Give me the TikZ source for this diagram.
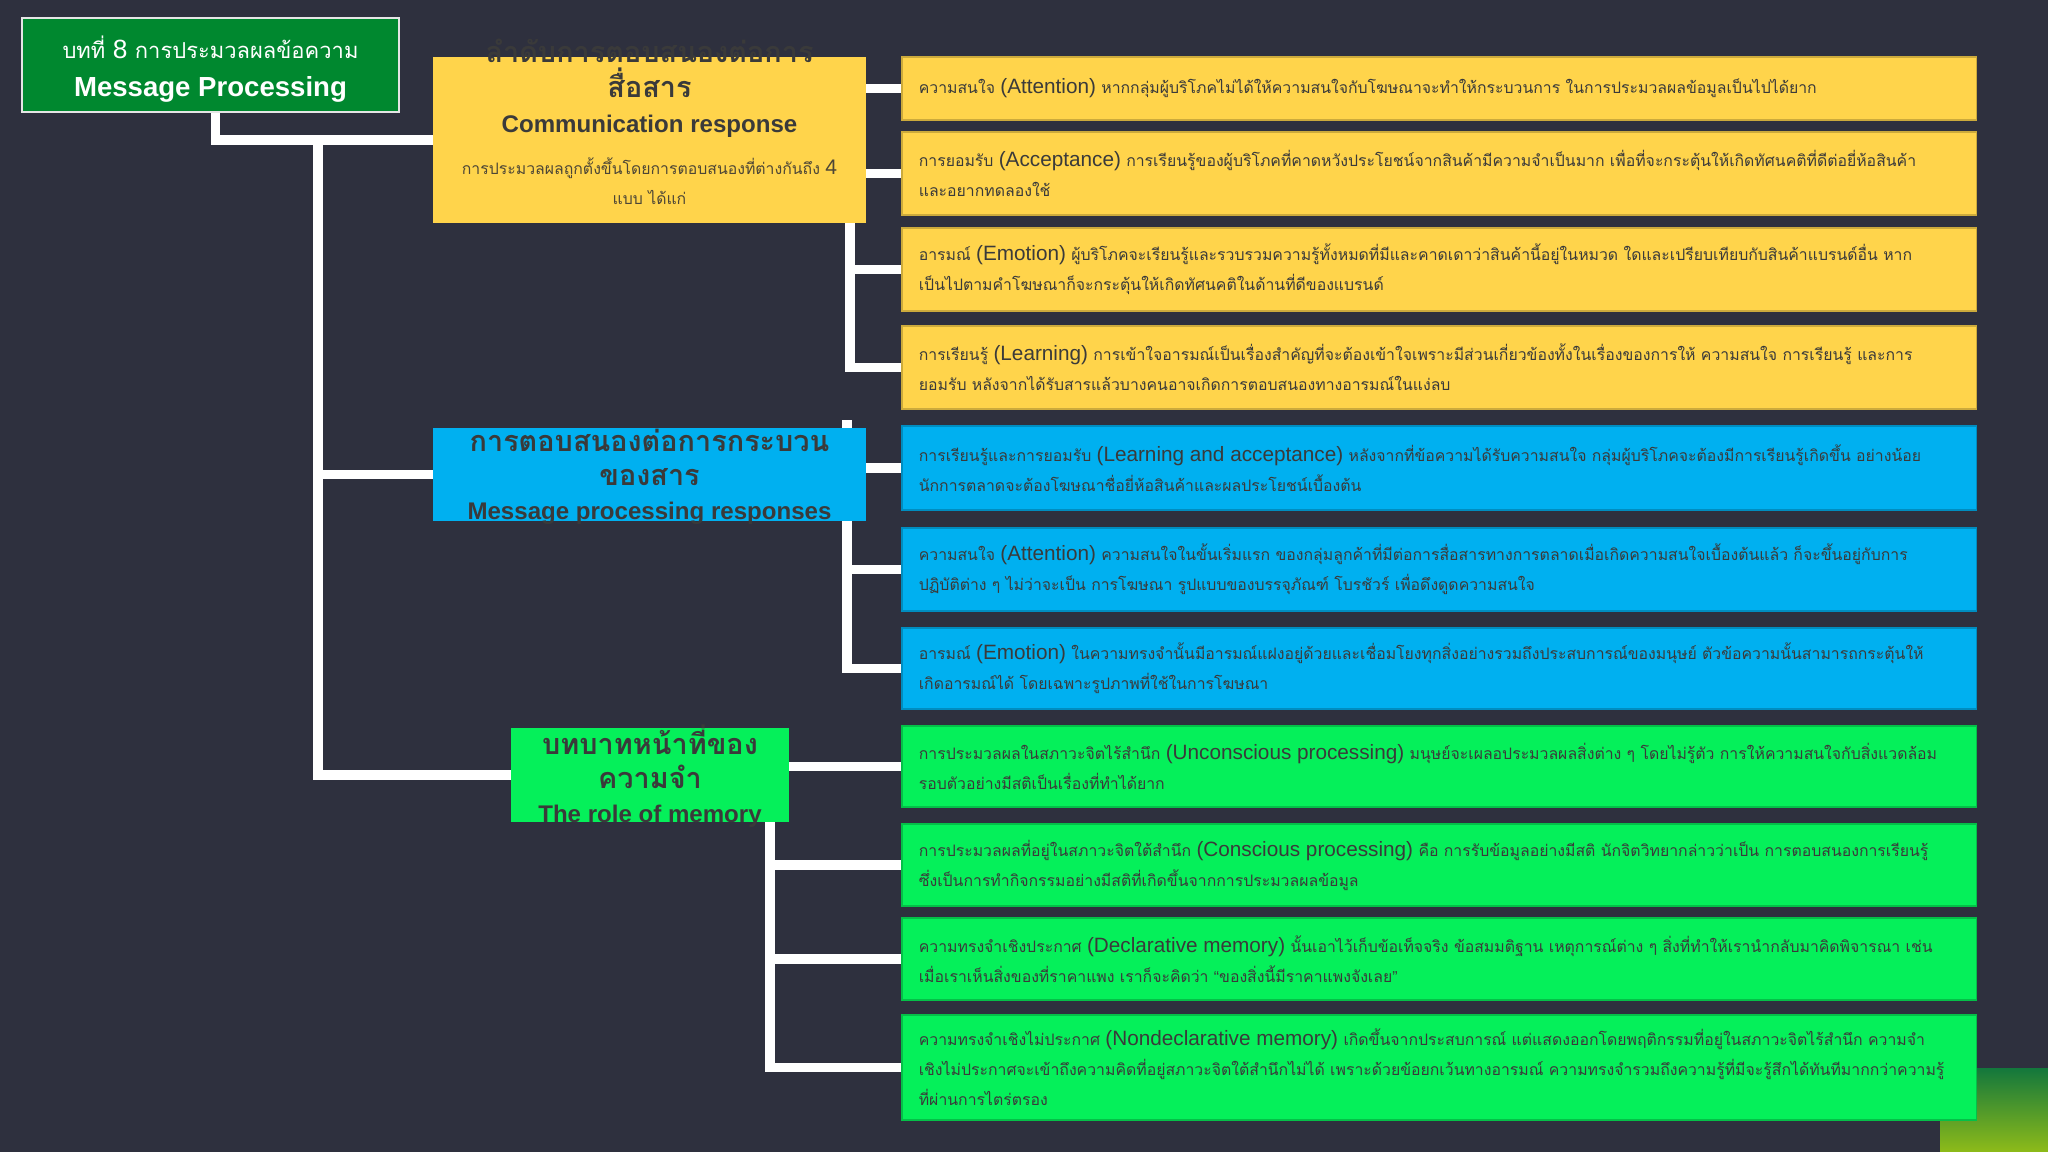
\documentclass[tikz,border=0pt]{standalone}
\usepackage{fontspec}
\setmainfont{Liberation Sans}
\newfontfamily\enfont{Liberation Sans}
\newfontfamily\thai[Script=Thai]{Loma}
\usetikzlibrary{positioning}

\definecolor{bgc}{HTML}{2E303E}
\definecolor{titlegreen}{HTML}{00882F}
\definecolor{yellowc}{HTML}{FFD44B}
\definecolor{bluec}{HTML}{00B0F0}
\definecolor{greenc}{HTML}{05F05A}
\definecolor{inkc}{HTML}{3A3A3A}
\definecolor{notec}{HTML}{4D4636}
\definecolor{cornertop}{HTML}{13773C}
\definecolor{cornerbot}{HTML}{8EBB19}

\pgfdeclarelayer{back}
\pgfdeclarelayer{wires}
\pgfsetlayers{back,wires,main}

\newcommand{\rowfont}{\thai\fontsize{9}{17}\selectfont}
\newcommand{\eterm}[1]{{\enfont\fontsize{11.8}{17}\selectfont(#1)}}
\newcommand{\hdrfont}{\bfseries\fontsize{13.7}{19.5}\selectfont}
\newcommand{\hdrthai}{\thai\bfseries\fontsize{16.4}{19.5}\selectfont}

\tikzset{
  wire/.style={draw=white, line width=5.5pt},
  titlebox/.style={fill=titlegreen, draw=white!80!gray, line width=1pt, text=white,
    align=center, minimum width=377*\pu*1cm, minimum height=94*\pu*1cm, inner sep=0pt,
    font=\fontsize{15}{22}\selectfont},
  hdrbox/.style={minimum width=433*\pu*1cm, inner sep=0pt},
  hdrtext/.style={text=inkc, align=center, inner sep=0pt, font=\fontsize{13.7}{19.5}\selectfont},
  rowbox/.style={minimum width=1074*\pu*1cm, inner sep=0pt, line width=0.6pt},
  rowtext/.style={text=inkc, anchor=west, align=left, inner sep=0pt, font=\rowfont},
}

\begin{document}
\begin{tikzpicture}[x=0.02cm, y=-0.02cm]
\def\pu{0.02}
% ---- พื้นหลัง ----
\begin{pgfonlayer}{back}
\fill[bgc] (0,0) rectangle (2048,1152);
\shade[top color=cornertop, bottom color=cornerbot] (1940,1068) rectangle (2048,1152);
\end{pgfonlayer}
\useasboundingbox (0,0) rectangle (2048,1152);

% ---- หัวเรื่อง ----
\node[titlebox] (title) at (210.5,65) {};
\node[text=white, align=center, inner sep=0pt, font=\fontsize{15}{22}\selectfont] (titletxt) at (210.5,69)
  {{\thai\fontsize{12.5}{20}\selectfont บทที่ {\enfont\fontsize{15}{20}\selectfont 8} การประมวลผลข้อความ}\\
   {\bfseries\fontsize{15.7}{20}\selectfont Message Processing}};

% ---- กล่องหัวข้อ 3 กลุ่ม ----
\node[hdrbox, fill=yellowc, minimum height=166*\pu*1cm] (comm) at (649.5,140) {};
\node[hdrtext, font=\fontsize{13.7}{20}\selectfont] (commhead) at (649.5,88)
  {{\hdrthai ลำดับการตอบสนองต่อการ}\\{\hdrthai สื่อสาร}\\{\hdrfont Communication response}};
\node[hdrtext, text=notec, font=\rowfont] (commnote) at (649.5,181)
  {การประมวลผลถูกตั้งขึ้นโดยการตอบสนองที่ต่างกันถึง {\enfont\fontsize{12}{17}\selectfont 4}\\แบบ ได้แก่};

\node[hdrbox, fill=bluec, minimum height=93*\pu*1cm] (msg) at (649.5,474.5) {};
\node[hdrtext] (msghead) at (649.5,477)
  {{\hdrthai การตอบสนองต่อการกระบวน}\\{\hdrthai ของสาร}\\{\hdrfont Message processing responses}};

\node[hdrbox, fill=greenc, minimum width=278*\pu*1cm, minimum height=94*\pu*1cm] (mem) at (650,775) {};
\node[hdrtext] (memhead) at (650,776)
  {{\hdrthai บทบาทหน้าที่ของ}\\{\hdrthai ความจำ}\\{\hdrfont The role of memory}};

% ---- แถวสีเหลือง ----
\node[rowbox, fill=yellowc, draw=yellowc!80!black, minimum height=63*\pu*1cm] (y1) at (1439,88.5) {};
\node[rowtext] (y1t) at ([xshift=17*\pu*1cm]y1.west)
  {ความสนใจ \eterm{Attention} หากกลุ่มผู้บริโภคไม่ได้ให้ความสนใจกับโฆษณาจะทำให้กระบวนการ ในการประมวลผลข้อมูลเป็นไปได้ยาก};
\node[rowbox, fill=yellowc, draw=yellowc!80!black, minimum height=83*\pu*1cm] (y2) at (1439,173.5) {};
\node[rowtext] (y2t) at ([xshift=17*\pu*1cm]y2.west)
  {การยอมรับ \eterm{Acceptance} การเรียนรู้ของผู้บริโภคที่คาดหวังประโยชน์จากสินค้ามีความจำเป็นมาก เพื่อที่จะกระตุ้นให้เกิดทัศนคติที่ดีต่อยี่ห้อสินค้า\\
   และอยากทดลองใช้};
\node[rowbox, fill=yellowc, draw=yellowc!80!black, minimum height=83*\pu*1cm] (y3) at (1439,269.5) {};
\node[rowtext] (y3t) at ([xshift=17*\pu*1cm]y3.west)
  {อารมณ์ \eterm{Emotion} ผู้บริโภคจะเรียนรู้และรวบรวมความรู้ทั้งหมดที่มีและคาดเดาว่าสินค้านี้อยู่ในหมวด ใดและเปรียบเทียบกับสินค้าแบรนด์อื่น หาก\\
   เป็นไปตามคำโฆษณาก็จะกระตุ้นให้เกิดทัศนคติในด้านที่ดีของแบรนด์};
\node[rowbox, fill=yellowc, draw=yellowc!80!black, minimum height=83*\pu*1cm] (y4) at (1439,367.5) {};
\node[rowtext] (y4t) at ([xshift=17*\pu*1cm]y4.west)
  {การเรียนรู้ \eterm{Learning} การเข้าใจอารมณ์เป็นเรื่องสำคัญที่จะต้องเข้าใจเพราะมีส่วนเกี่ยวข้องทั้งในเรื่องของการให้ ความสนใจ การเรียนรู้ และการ\\
   ยอมรับ หลังจากได้รับสารแล้วบางคนอาจเกิดการตอบสนองทางอารมณ์ในแง่ลบ};

% ---- แถวสีฟ้า ----
\node[rowbox, fill=bluec, draw=bluec!80!black, minimum height=84*\pu*1cm] (b1) at (1439,468) {};
\node[rowtext] (b1t) at ([xshift=17*\pu*1cm]b1.west)
  {การเรียนรู้และการยอมรับ \eterm{Learning and acceptance} หลังจากที่ข้อความได้รับความสนใจ กลุ่มผู้บริโภคจะต้องมีการเรียนรู้เกิดขึ้น อย่างน้อย\\
   นักการตลาดจะต้องโฆษณาชื่อยี่ห้อสินค้าและผลประโยชน์เบื้องต้น};
\node[rowbox, fill=bluec, draw=bluec!80!black, minimum height=83*\pu*1cm] (b2) at (1439,569.5) {};
\node[rowtext] (b2t) at ([xshift=17*\pu*1cm]b2.west)
  {ความสนใจ \eterm{Attention} ความสนใจในขั้นเริ่มแรก ของกลุ่มลูกค้าที่มีต่อการสื่อสารทางการตลาดเมื่อเกิดความสนใจเบื้องต้นแล้ว ก็จะขึ้นอยู่กับการ\\
   ปฏิบัติต่าง ๆ ไม่ว่าจะเป็น การโฆษณา รูปแบบของบรรจุภัณฑ์ โบรชัวร์ เพื่อดึงดูดความสนใจ};
\node[rowbox, fill=bluec, draw=bluec!80!black, minimum height=81*\pu*1cm] (b3) at (1439,668.5) {};
\node[rowtext] (b3t) at ([xshift=17*\pu*1cm]b3.west)
  {อารมณ์ \eterm{Emotion} ในความทรงจำนั้นมีอารมณ์แฝงอยู่ด้วยและเชื่อมโยงทุกสิ่งอย่างรวมถึงประสบการณ์ของมนุษย์ ตัวข้อความนั้นสามารถกระตุ้นให้\\
   เกิดอารมณ์ได้ โดยเฉพาะรูปภาพที่ใช้ในการโฆษณา};

% ---- แถวสีเขียว ----
\node[rowbox, fill=greenc, draw=greenc!80!black, minimum height=81*\pu*1cm] (g1) at (1439,766.5) {};
\node[rowtext] (g1t) at ([xshift=17*\pu*1cm]g1.west)
  {การประมวลผลในสภาวะจิตไร้สำนึก \eterm{Unconscious processing} มนุษย์จะเผลอประมวลผลสิ่งต่าง ๆ โดยไม่รู้ตัว การให้ความสนใจกับสิ่งแวดล้อม\\
   รอบตัวอย่างมีสติเป็นเรื่องที่ทำได้ยาก};
\node[rowbox, fill=greenc, draw=greenc!80!black, minimum height=82*\pu*1cm] (g2) at (1439,865) {};
\node[rowtext] (g2t) at ([xshift=17*\pu*1cm]g2.west)
  {การประมวลผลที่อยู่ในสภาวะจิตใต้สำนึก \eterm{Conscious processing} คือ การรับข้อมูลอย่างมีสติ นักจิตวิทยากล่าวว่าเป็น การตอบสนองการเรียนรู้\\
   ซึ่งเป็นการทำกิจกรรมอย่างมีสติที่เกิดขึ้นจากการประมวลผลข้อมูล};
\node[rowbox, fill=greenc, draw=greenc!80!black, minimum height=82*\pu*1cm] (g3) at (1439,959) {};
\node[rowtext] (g3t) at ([xshift=17*\pu*1cm]g3.west)
  {ความทรงจำเชิงประกาศ \eterm{Declarative memory} นั้นเอาไว้เก็บข้อเท็จจริง ข้อสมมติฐาน เหตุการณ์ต่าง ๆ สิ่งที่ทำให้เรานำกลับมาคิดพิจารณา เช่น\\
   เมื่อเราเห็นสิ่งของที่ราคาแพง เราก็จะคิดว่า {\enfont “}ของสิ่งนี้มีราคาแพงจังเลย{\enfont ”}};
\node[rowbox, fill=greenc, draw=greenc!80!black, minimum height=105*\pu*1cm] (g4) at (1439,1067.5) {};
\node[rowtext] (g4t) at ([xshift=17*\pu*1cm]g4.west)
  {ความทรงจำเชิงไม่ประกาศ \eterm{Nondeclarative memory} เกิดขึ้นจากประสบการณ์ แต่แสดงออกโดยพฤติกรรมที่อยู่ในสภาวะจิตไร้สำนึก ความจำ\\
   เชิงไม่ประกาศจะเข้าถึงความคิดที่อยู่สภาวะจิตใต้สำนึกไม่ได้ เพราะด้วยข้อยกเว้นทางอารมณ์ ความทรงจำรวมถึงความรู้ที่มีจะรู้สึกได้ทันทีมากกว่าความรู้\\
   ที่ผ่านการไตร่ตรอง};

% ---- เส้นเชื่อม ----
\coordinate (trunk) at (318,140);
\coordinate (ytrunk) at (850,223);
\coordinate (btrunk) at (847,420);
\coordinate (gtrunk) at (770,822);
\begin{pgfonlayer}{wires}
\draw[wire] ([xshift=5*\pu*1cm]title.south) |- (comm.west);
\draw[wire] (trunk) |- (msg.west);
\draw[wire] (trunk) |- (mem.west);
\draw[wire] (comm.east |- y1.west) -- (y1.west);
\draw[wire] (comm.east |- y2.west) -- (y2.west);
\draw[wire] (ytrunk) |- (y3.west);
\draw[wire] (ytrunk) |- (y4.west);
\draw[wire] (msg.east |- b1.west) -- (b1.west);
\draw[wire] (btrunk) |- (b2.west);
\draw[wire] (btrunk) |- (b3.west);
\draw[wire] (mem.east |- g1.west) -- (g1.west);
\draw[wire] (gtrunk) |- (g2.west);
\draw[wire] (gtrunk) |- (g3.west);
\draw[wire] (gtrunk) |- (g4.west);
\end{pgfonlayer}
\end{tikzpicture}
\end{document}
